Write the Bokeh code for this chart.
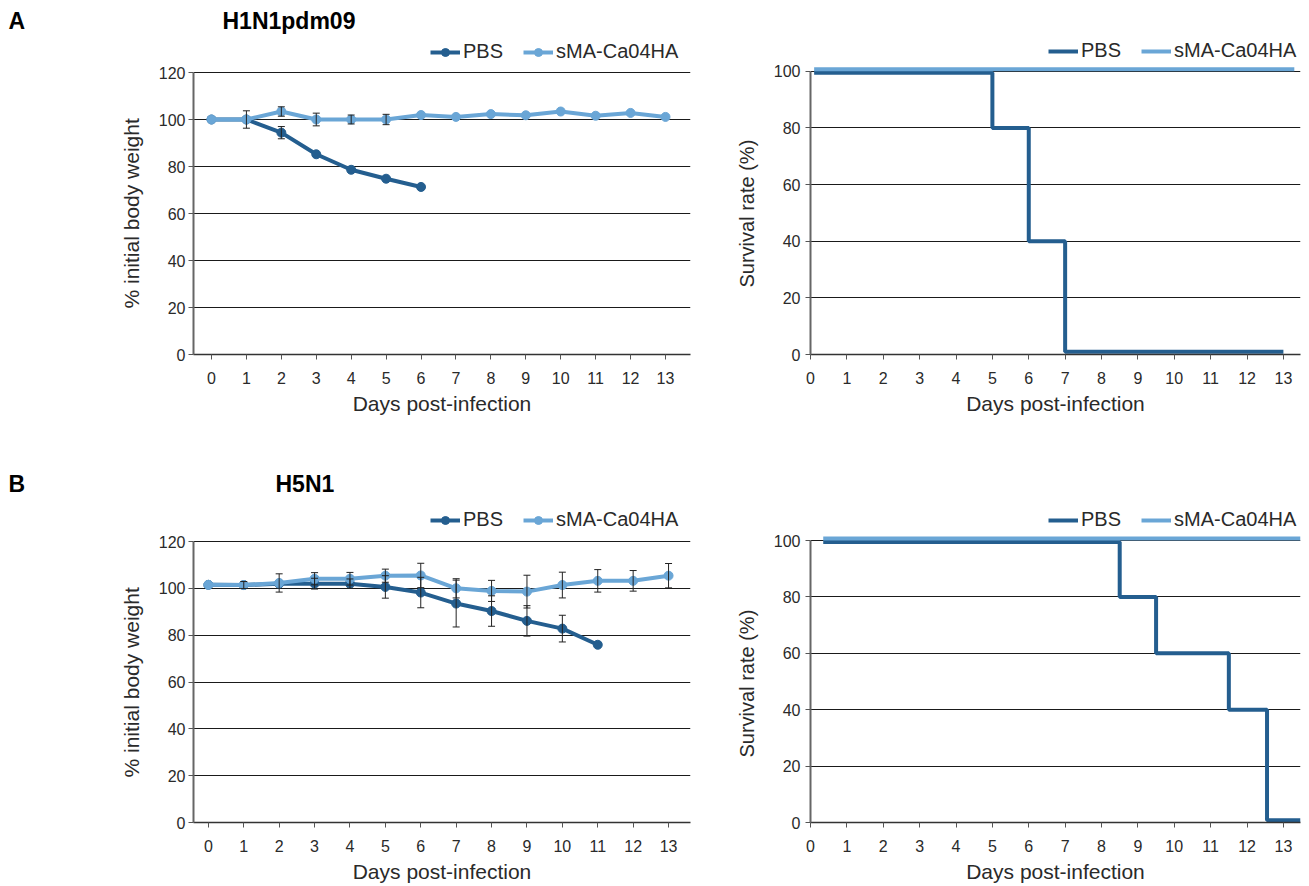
from bokeh.plotting import figure
from bokeh.layouts import column, row
from bokeh.models import (ColumnDataSource, Whisker, TeeHead, Legend, LegendItem,
                          Label, FixedTicker, Range1d, Spacer, Title)
from bokeh.embed import file_html
from bokeh.resources import INLINE

# ---------------- data ----------------
days = list(range(14))

# Panel A: H1N1pdm09 body weight (% initial)
h1_pbs_days = days[:7]
h1_pbs_weight = [100, 100, 94.4, 85.2, 78.6, 74.8, 71.3]
h1_pbs_err = [0, 0, 2.6, 0, 0, 0, 0]
h1_sma_weight = [100, 100, 103.4, 100, 100, 100, 101.9, 101.1, 102.3, 101.8, 103.4, 101.6, 102.8, 101.1]
h1_sma_err = [0, 3.7, 2.0, 2.7, 1.9, 2.2, 0, 0, 0, 0, 0, 0, 0, 0]

# Panel A: survival (%)
h1_pbs_surv_days = [0.1, 5, 6, 7, 13]
h1_pbs_surv = [99.5, 80, 40, 1, 1]
h1_sma_surv_days = [0.1, 13.3]
h1_sma_surv = [100.7, 100.7]

# Panel B: H5N1 body weight (% initial)
h5_pbs_days = days[:12]
h5_pbs_weight = [101.5, 101.4, 102.0, 102.0, 102.0, 100.6, 98.2, 93.5, 90.3, 86.1, 82.8, 75.9]
h5_pbs_err = [0, 0, 0, 2.3, 2.0, 4.8, 6.5, 10.0, 6.5, 6.5, 5.7, 0]
h5_sma_weight = [101.5, 101.4, 102.3, 104.1, 104.1, 105.4, 105.5, 100.0, 98.9, 98.6, 101.4, 103.2, 103.2, 105.4]
h5_sma_err = [0, 1.5, 3.9, 2.6, 2.7, 2.8, 5.2, 4.1, 4.5, 7.0, 5.5, 4.8, 4.4, 5.2]

# Panel B: survival (%)
h5_pbs_surv_days = [0.35, 8.5, 9.5, 11.5, 12.55, 13.47]
h5_pbs_surv = [99.5, 80, 60, 40, 0.8, 0.8]
h5_sma_surv_days = [0.35, 13.47]
h5_sma_surv = [100.7, 100.7]

weight_ticks = [0, 20, 40, 60, 80, 100, 120]
surv_ticks = [0, 20, 40, 60, 80, 100]

# ---------------- style ----------------
FONT = "Liberation Sans"
PBS_C = "#245e8f"
SMA_C = "#6aa6d6"
TXT = "#2a2a2a"


def base_fig(width, height, mbl, mbr, mbb, xr, yr, ybounds, yticks, ylabel, ylab_size, ylab_off):
    p = figure(width=width, height=height, x_range=Range1d(*xr), y_range=Range1d(*yr),
               output_backend="svg", toolbar_location=None,
               min_border_left=mbl, min_border_right=mbr,
               min_border_top=0, min_border_bottom=mbb)
    p.outline_line_color = None
    p.background_fill_color = "white"
    p.border_fill_color = "white"
    p.xgrid.visible = False
    p.ygrid.grid_line_color = "#1a1a1a"
    p.ygrid.grid_line_width = 1
    p.xaxis.ticker = FixedTicker(ticks=days)
    p.yaxis.ticker = FixedTicker(ticks=yticks)
    p.yaxis.bounds = ybounds
    for ax in (p.xaxis[0], p.yaxis[0]):
        ax.major_tick_in = 0
        ax.major_tick_out = 5
        ax.minor_tick_in = 0
        ax.minor_tick_out = 0
        ax.major_tick_line_color = "#555555"
        ax.major_label_text_font = FONT
        ax.major_label_text_font_size = "16px"
        ax.major_label_text_color = TXT
        ax.axis_label_text_font = FONT
        ax.axis_label_text_font_size = "21px"
        ax.axis_label_text_font_style = "normal"
        ax.axis_label_text_color = TXT
    p.xaxis.axis_label = "Days post-infection"
    p.xaxis.axis_line_color = "#333333"
    p.xaxis.axis_line_width = 1.5
    p.yaxis.axis_line_color = "#666666"
    p.yaxis.axis_line_width = 2
    p.xaxis.major_label_standoff = 12
    p.xaxis.axis_label_standoff = 5
    p.yaxis.major_label_standoff = 3
    # y-axis title placed along the bounded part of the axis
    p.add_layout(Title(text=ylabel, align="left", offset=ylab_off, standoff=26,
                       text_font=FONT, text_font_size=ylab_size, text_font_style="normal",
                       text_color=TXT), "left")
    return p


def add_legend(p, items, loc):
    lg = Legend(items=items, location=loc, orientation="horizontal",
                padding=0, margin=0, spacing=20, label_standoff=3,
                glyph_width=30, glyph_height=20,
                border_line_color=None, background_fill_alpha=0,
                label_text_font=FONT, label_text_font_size="20px",
                label_text_color=TXT)
    p.add_layout(lg)


def add_errors(p, xs, ys, es):
    bx = [x for x, e in zip(xs, es) if e > 0]
    by = [y for y, e in zip(ys, es) if e > 0]
    be = [e for e in es if e > 0]
    src = ColumnDataSource(dict(x=bx, upper=[y + e for y, e in zip(by, be)],
                                lower=[y - e for y, e in zip(by, be)]))
    w = Whisker(base="x", upper="upper", lower="lower", source=src,
                line_color="#222222", line_width=1, level="overlay",
                upper_head=TeeHead(size=7, line_color="#222222", line_width=1),
                lower_head=TeeHead(size=7, line_color="#222222", line_width=1))
    p.add_layout(w)


def add_title(p, text, dx, dy):
    p.add_layout(Label(x=dx, y=dy, x_units="screen", y_units="screen", text=text,
                       text_font=FONT, text_font_size="23px", text_font_style="bold",
                       text_color="black", text_baseline="middle"))


def letter_fig(text, width, height, dx, dy):
    p = figure(width=width, height=height, x_range=Range1d(0, width), y_range=Range1d(0, height),
               output_backend="svg", toolbar_location=None,
               x_axis_location=None, y_axis_location=None,
               min_border_left=0, min_border_right=0, min_border_top=0, min_border_bottom=0)
    p.outline_line_color = None
    p.grid.visible = False
    p.add_layout(Label(x=dx, y=dy, x_units="screen", y_units="screen", text=text,
                       text_font=FONT, text_font_size="23px", text_font_style="bold",
                       text_color="black", text_baseline="middle"))
    return p


def weight_panel(width, height, mbl, mbr, mbb, xr, ytop, pbs_d, pbs_w, pbs_e, sma_w, sma_e,
                 legend_loc, ylab_off):
    p = base_fig(width, height, mbl, mbr, mbb, xr, (0, ytop), (0, 120), weight_ticks,
                 "% initial body weight", "21px", ylab_off)
    l1 = p.line(pbs_d, pbs_w, line_color=PBS_C, line_width=4)
    s1 = p.scatter(pbs_d, pbs_w, size=9, fill_color=PBS_C, line_color=PBS_C)
    l2 = p.line(days, sma_w, line_color=SMA_C, line_width=4)
    s2 = p.scatter(days, sma_w, size=9, fill_color=SMA_C, line_color=SMA_C)
    add_errors(p, pbs_d, pbs_w, pbs_e)
    add_errors(p, days, sma_w, sma_e)
    add_legend(p, [LegendItem(label="PBS", renderers=[l1, s1]),
                   LegendItem(label="sMA-Ca04HA", renderers=[l2, s2])], legend_loc)
    return p


def surv_panel(width, height, mbl, mbr, mbb, ytop, pbs_d, pbs_s, sma_d, sma_s, legend_loc,
               ylab_off):
    p = base_fig(width, height, mbl, mbr, mbb, (0, 13.47), (0, ytop), (0, 100), surv_ticks,
                 "Survival rate (%)", "20px", ylab_off)
    p.yaxis.major_label_standoff = 5
    l1 = p.step(pbs_d, pbs_s, mode="after", line_color=PBS_C, line_width=4)
    l2 = p.line(sma_d, sma_s, line_color=SMA_C, line_width=4)
    add_legend(p, [LegendItem(label="PBS", renderers=[l1]),
                   LegendItem(label="sMA-Ca04HA", renderers=[l2])], legend_loc)
    return p


ROW_H = 443
LET_W = 40
LET_H = 60

# ---- top row ----
letA = letter_fig("A", LET_W, LET_H, 8, 40)
pA1 = weight_panel(667, ROW_H, 153, 17, 89, (-0.515, 13.716), 120 * 354 / 282,
                   h1_pbs_days, h1_pbs_weight, h1_pbs_err, h1_sma_weight, h1_sma_err,
                   (237, 291), 46)
add_title(pA1, "H1N1pdm09", 29, 334)
pA2 = surv_panel(602, ROW_H, 103, 9, 88, 355 / 2.84,
                 h1_pbs_surv_days, h1_pbs_surv, h1_sma_surv_days, h1_sma_surv, (238, 292), 67)

# ---- bottom row ----
letB = letter_fig("B", LET_W, LET_H, 8, 20)
pB1 = weight_panel(667, ROW_H, 153, 17, 64, (-0.42, 13.62), 379 / (281 / 120),
                   h5_pbs_days, h5_pbs_weight, h5_pbs_err, h5_sma_weight, h5_sma_err,
                   (237, 291), 45)
add_title(pB1, "H5N1", 82, 339)
pB2 = surv_panel(602, ROW_H, 103, 9, 64, 379 / 2.82,
                 h5_pbs_surv_days, h5_pbs_surv, h5_sma_surv_days, h5_sma_surv, (238, 291), 65)

top = row(column(letA, Spacer(width=LET_W, height=ROW_H - LET_H), spacing=0), pA1, pA2, spacing=0)
bottom = row(column(letB, Spacer(width=LET_W, height=ROW_H - LET_H), spacing=0), pB1, pB2, spacing=0)
layout = column(top, bottom, spacing=0)

with open("out.html", "w") as f:
    f.write(file_html(layout, INLINE))
